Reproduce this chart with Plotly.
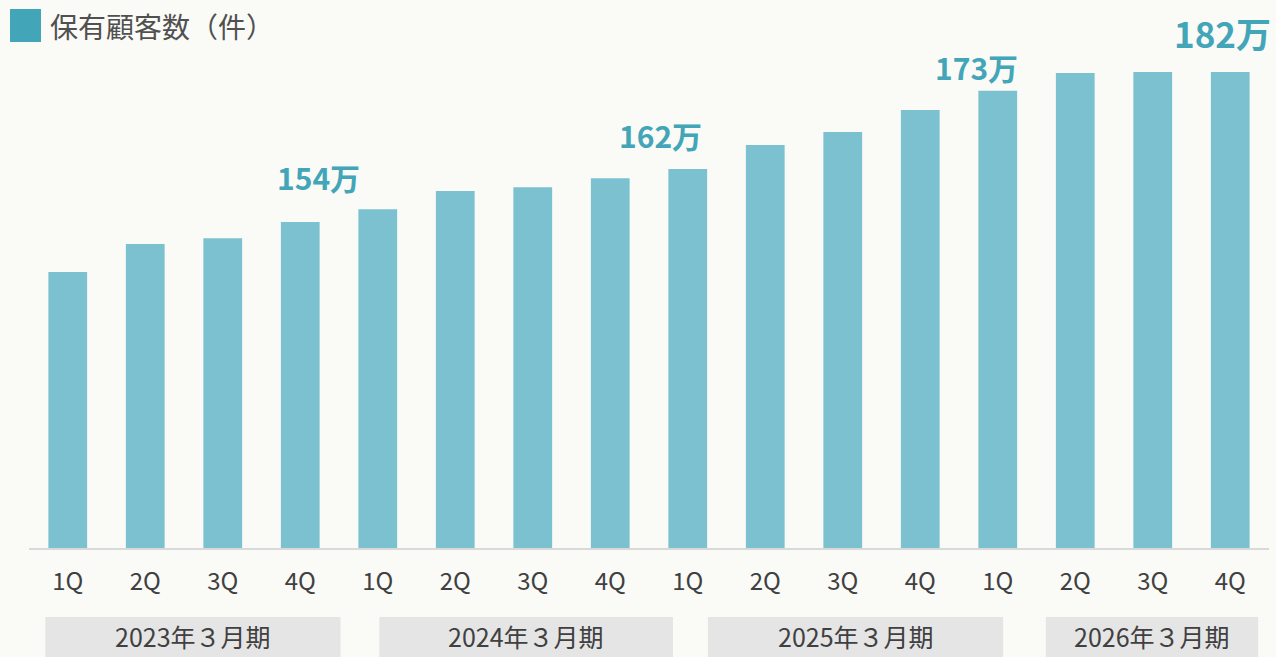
import plotly.graph_objects as go

quarters = ["1Q", "2Q", "3Q", "4Q"] * 4
customers = [144.5, 149.7, 150.8, 153.8, 156.2, 159.6, 160.3, 162.0,
             163.7, 168.2, 170.6, 174.7, 178.3, 181.6, 181.8, 181.8]
fiscal_years = ["2023年３月期", "2024年３月期", "2025年３月期", "2026年３月期"]
callout_labels = ["154万", "162万", "173万", "182万"]
callout_pos = [(3.23, 177), (7.65, 135), (11.73, 67), (14.9, 32)]  # (bar index, pixel y)
callout_sizes = [30, 30, 30, 35]
year_spans = [(-0.29, 3.52), (4.02, 7.81), (8.26, 12.07), (12.62, 15.36)]

BAR = "#7cc1cf"
ACCENT = "#42a5b8"
BG = "#fafaf7"
FONT = "Noto Sans CJK JP"

xs = list(range(len(customers)))
fig = go.Figure(go.Bar(x=xs, y=customers, width=0.5, marker=dict(color=BAR, line=dict(width=0)),
                       hoverinfo="skip"))

top, bottom = 60, 657 - 548
plot_h = 657 - top - bottom


def py(pix):
    return 1 - (pix - top) / plot_h


fig.update_layout(
    width=1276, height=657,
    margin=dict(l=29, r=7, t=top, b=bottom),
    paper_bgcolor=BG, plot_bgcolor=BG,
    showlegend=False,
    font=dict(family=FONT, color="#404040"),
    xaxis=dict(range=[-0.5, 15.5], tickmode="array", tickvals=xs, ticktext=quarters,
               showgrid=False, zeroline=False, showline=True, linecolor="#d9d9d9", linewidth=2,
               tickfont=dict(size=24, color="#404040", family=FONT), ticks="", ticklabelstandoff=11),
    yaxis=dict(range=[93, 93 + plot_h / 5.36], visible=False, showgrid=False),
)

for (x0, x1), name in zip(year_spans, fiscal_years):
    fig.add_shape(type="rect", xref="x", yref="paper", x0=x0, x1=x1,
                  y0=py(617), y1=py(660),
                  fillcolor="#e5e5e5", line=dict(width=0), layer="below")
    fig.add_annotation(xref="x", yref="paper", x=(x0 + x1) / 2, y=py(636),
                       xanchor="center", yanchor="middle",
                       text=name, showarrow=False, font=dict(size=25, color="#404040", family=FONT))

for label, (x, y), sz in zip(callout_labels, callout_pos, callout_sizes):
    fig.add_annotation(xref="x", yref="paper", x=x, y=py(y), xanchor="center", yanchor="middle",
                       text="<b>" + label + "</b>", showarrow=False,
                       font=dict(size=sz, color=ACCENT, family=FONT))

# legend-like title
fig.add_shape(type="rect", xref="paper", yref="paper",
              x0=(10 - 29) / 1240, x1=(41 - 29) / 1240,
              y0=py(9), y1=py(42),
              fillcolor=ACCENT, line=dict(width=0))
fig.add_annotation(xref="paper", yref="paper", x=(48 - 29) / 1240, y=py(26),
                   xanchor="left", yanchor="middle", text="保有顧客数（件）", showarrow=False,
                   font=dict(size=28, color="#505050", family=FONT))

fig.write_html("out.html", config={"displayModeBar": False},
               post_script="document.body.style.margin='0';")
